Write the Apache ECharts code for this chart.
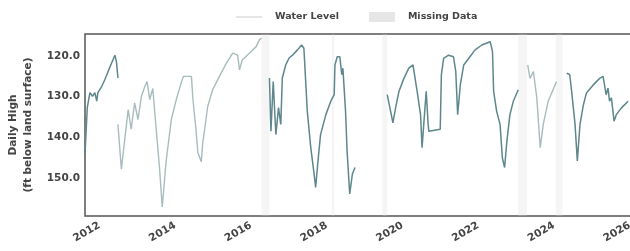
<!DOCTYPE html>
<html>
<head>
<meta charset="utf-8">
<script src="https://cdn.jsdelivr.net/npm/echarts@6/dist/echarts.min.js"></script>
<style>
  body { margin: 0; background: #fff; }
  #chart { width: 630px; height: 251px; }
</style>
</head>
<body>
<div id="chart"></div>
<script>
// decimal years / water level (ft below land surface)
const darkYears1 = [2011.95, 2012.01, 2012.08, 2012.15, 2012.21, 2012.26, 2012.29, 2012.39, 2012.47, 2012.56, 2012.65, 2012.74, 2012.78, 2012.82];
const darkLevels1 = [144.1, 132.7, 129.0, 129.9, 129.0, 131.1, 129.0, 127.5, 125.9, 123.8, 121.8, 119.8, 121.4, 125.4];

const fadedYears1 = [2012.82, 2012.91, 2013.00, 2013.09, 2013.17, 2013.26, 2013.35, 2013.44, 2013.53, 2013.59, 2013.66, 2013.74, 2013.83, 2013.92, 2013.99, 2014.09, 2014.23, 2014.36, 2014.49, 2014.55, 2014.76, 2014.80, 2014.88, 2014.93, 2015.02, 2015.06, 2015.11, 2015.19, 2015.32, 2015.50, 2015.68, 2015.85, 2015.98, 2016.03, 2016.10, 2016.29, 2016.47, 2016.55, 2016.61];
const fadedLevels1 = [136.8, 147.8, 140.5, 133.2, 138.0, 131.5, 135.6, 129.9, 127.5, 126.3, 130.7, 128.0, 138.0, 147.8, 157.1, 146.0, 135.6, 130.7, 126.6, 125.0, 125.0, 130.7, 138.0, 143.7, 146.0, 141.2, 138.0, 132.4, 128.3, 125.0, 121.8, 119.3, 119.8, 123.4, 121.0, 119.3, 117.7, 116.1, 115.6];

const darkYears2 = [2016.82, 2016.86, 2016.92, 2016.99, 2017.06, 2017.12, 2017.16, 2017.25, 2017.34, 2017.43, 2017.56, 2017.67, 2017.73, 2017.82, 2017.91, 2018.00, 2018.04, 2018.11, 2018.17, 2018.31, 2018.44, 2018.53, 2018.55, 2018.61, 2018.68, 2018.73, 2018.76, 2018.83, 2018.87, 2018.94, 2019.01, 2019.08];
const darkLevels2 = [125.4, 138.5, 126.3, 139.3, 132.7, 136.8, 125.4, 122.2, 120.5, 119.8, 118.5, 117.3, 118.1, 133.6, 142.4, 149.0, 152.3, 145.0, 139.3, 134.4, 131.1, 129.5, 122.2, 120.2, 120.2, 124.6, 123.0, 133.6, 143.3, 153.9, 149.0, 147.4];

const darkYears3 = [2019.93, 2020.02, 2020.08, 2020.15, 2020.24, 2020.37, 2020.50, 2020.61, 2020.66, 2020.72, 2020.81, 2020.85, 2020.92, 2020.96, 2021.01, 2021.03, 2021.33, 2021.36, 2021.42, 2021.55, 2021.68, 2021.74, 2021.79, 2021.86, 2021.95, 2022.08, 2022.25, 2022.43, 2022.65, 2022.71, 2022.74, 2022.82, 2022.91, 2022.97, 2023.03, 2023.09, 2023.17, 2023.26, 2023.39];
const darkLevels3 = [129.5, 133.6, 136.4, 132.8, 128.7, 125.5, 123.0, 122.2, 122.6, 128.7, 134.4, 142.5, 133.6, 128.7, 136.8, 138.5, 138.0, 124.6, 120.6, 119.8, 120.2, 123.8, 134.4, 127.1, 122.2, 120.6, 118.5, 117.3, 116.5, 118.9, 128.7, 133.6, 136.8, 145.0, 147.4, 140.9, 134.4, 131.1, 128.3];

const fadedYears2 = [2023.64, 2023.70, 2023.79, 2023.88, 2023.97, 2024.05, 2024.18, 2024.40];
const fadedLevels2 = [122.2, 125.5, 123.8, 130.3, 142.5, 136.8, 131.1, 126.3];

const darkYears4 = [2024.67, 2024.75, 2024.80, 2024.89, 2024.95, 2025.02, 2025.11, 2025.19, 2025.37, 2025.54, 2025.63, 2025.71, 2025.76, 2025.80, 2025.85, 2025.92, 2025.98, 2026.11, 2026.29];
const darkLevels4 = [124.2, 124.6, 128.7, 136.8, 145.8, 136.8, 132.0, 129.1, 127.1, 125.5, 125.0, 129.5, 127.9, 131.1, 130.3, 136.0, 134.4, 132.8, 131.1];

// gaps in the record [start, end]
const missingSpans = [[2016.61, 2016.82], [2018.47, 2018.53], [2019.80, 2019.93], [2023.39, 2023.62], [2024.38, 2024.56]];

const yearTicks = [2012, 2014, 2016, 2018, 2020, 2022, 2024, 2026];
const levelTicks = [120, 130, 140, 150];

function pairs(xs, ys) {
  return xs.map((x, i) => [x, ys[i]]);
}

// join segments with a null point so the line breaks between them
function joinSegments(segs) {
  const out = [];
  segs.forEach((s, i) => {
    if (i > 0) out.push([s[0][0], null]);
    out.push(...s);
  });
  return out;
}

const darkData = joinSegments([
  pairs(darkYears1, darkLevels1),
  pairs(darkYears2, darkLevels2),
  pairs(darkYears3, darkLevels3),
  pairs(darkYears4, darkLevels4)
]);
const fadedData = joinSegments([
  pairs(fadedYears1, fadedLevels1),
  pairs(fadedYears2, fadedLevels2)
]);

const chart = echarts.init(document.getElementById("chart"));
const labelFont = { fontFamily: "DejaVu Sans", fontWeight: "bold", fontSize: 10.5, color: "#444" };

chart.setOption({
  animation: false,
  legend: {
    top: 7,
    left: 231,
    itemWidth: 26,
    itemHeight: 10,
    itemGap: 30,
    textStyle: { fontFamily: "DejaVu Sans", fontWeight: "bold", fontSize: 9.5, color: "#444", padding: [0, 0, 0, 8] },
    data: [
      { name: "Water Level", icon: "path://M0,0H26V1.5H0Z", itemStyle: { color: "#dcdcdc" } },
      { name: "Missing Data", icon: "rect", itemStyle: { color: "#e6e6e6" } }
    ]
  },
  grid: {
    left: 85,
    right: -3,
    top: 34,
    bottom: 35,
    outerBoundsMode: "none",
    containLabel: false,
    show: true,
    borderColor: "#555",
    borderWidth: 1.5
  },
  xAxis: {
    type: "value",
    min: 2011.95,
    max: 2026.42,
    axisLine: { show: false },
    axisTick: { show: false },
    splitLine: { show: false },
    axisLabel: Object.assign({}, labelFont, {
      customValues: yearTicks,
      rotate: 30,
      align: "center",
      verticalAlign: "middle",
      margin: 16,
      formatter: v => String(v)
    })
  },
  yAxis: {
    type: "value",
    inverse: true,
    min: 114.6,
    max: 159.3,
    name: "Daily High\n(ft below land surface)",
    nameLocation: "middle",
    nameGap: 39,
    nameTextStyle: Object.assign({}, labelFont, { fontSize: 10.5, lineHeight: 15 }),
    axisLine: { show: false },
    axisTick: { show: false },
    splitLine: { show: false },
    axisLabel: Object.assign({}, labelFont, {
      customValues: levelTicks,
      margin: 5,
      formatter: v => v.toFixed(1)
    })
  },
  series: [
    {
      name: "Missing Data",
      type: "line",
      data: [],
      symbol: "none",
      itemStyle: { color: "#e6e6e6" },
      markArea: {
        silent: true,
        itemStyle: { color: "rgba(215,215,215,0.25)" },
        data: missingSpans.map(s => [{ xAxis: s[0] }, { xAxis: s[1] }])
      }
    },
    {
      name: "Water Level",
      type: "line",
      data: fadedData,
      symbol: "none",
      connectNulls: false,
      itemStyle: { color: "#a8bcbd" },
      lineStyle: { color: "#a8bcbd", width: 1.4 }
    },
    {
      name: "Water Level",
      type: "line",
      data: darkData,
      symbol: "none",
      connectNulls: false,
      itemStyle: { color: "#5d878c" },
      lineStyle: { color: "#5d878c", width: 1.5 }
    }
  ]
});
</script>
</body>
</html>
